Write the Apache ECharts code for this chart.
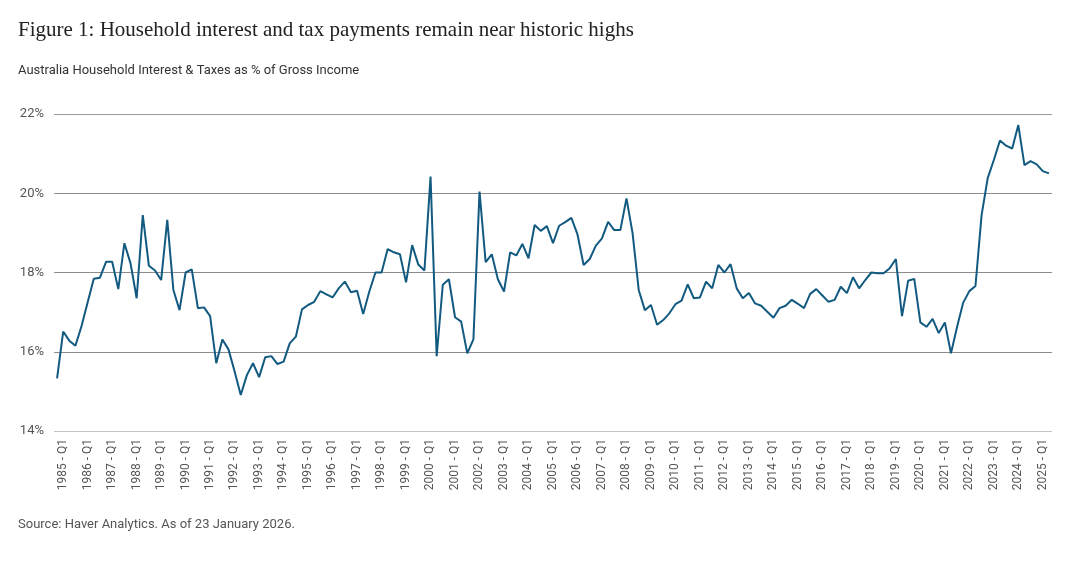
<!DOCTYPE html>
<html>
<head>
<meta charset="utf-8">
<script src="https://cdn.jsdelivr.net/npm/echarts@6/dist/echarts.min.js"></script>
<style>
  html, body {margin:0; padding:0; background:#fff;}
  #chart {width:1069px; height:564px;}
</style>
</head>
<body>
<div id="chart"></div>
<script>
// quarterly data, 1985 Q1 .. 2025 Q3
const startYear = 1985
const values = [
  15.33, 16.51, 16.28, 16.15, 16.65, 17.25, 17.84, 17.87, 18.27, 18.27,
  17.58, 18.74, 18.23, 17.35, 19.45, 18.17, 18.05, 17.81, 19.33, 17.56,
  17.05, 18.0, 18.08, 17.1, 17.12, 16.9, 15.71, 16.31, 16.06, 15.5,
  14.91, 15.41, 15.71, 15.36, 15.86, 15.89, 15.69, 15.75, 16.21, 16.38,
  17.07, 17.18, 17.26, 17.53, 17.45, 17.37, 17.6, 17.77, 17.5, 17.54,
  16.95, 17.52, 18.0, 18.0, 18.59, 18.51, 18.46, 17.75, 18.69, 18.2,
  18.05, 20.42, 15.89, 17.69, 17.83, 16.87, 16.76, 15.96, 16.31, 20.04,
  18.26, 18.46, 17.83, 17.52, 18.51, 18.43, 18.72, 18.36, 19.2, 19.05,
  19.17, 18.74, 19.18, 19.27, 19.38, 18.96, 18.19, 18.34, 18.68, 18.86,
  19.28, 19.07, 19.07, 19.87, 18.99, 17.56, 17.05, 17.18, 16.68, 16.8,
  16.97, 17.2, 17.29, 17.7, 17.35, 17.37, 17.77, 17.6, 18.19, 18.0,
  18.21, 17.6, 17.35, 17.48, 17.22, 17.16, 17.01, 16.86, 17.1, 17.16,
  17.31, 17.21, 17.1, 17.46, 17.58, 17.42, 17.26, 17.31, 17.64, 17.48,
  17.88, 17.6, 17.81, 18.0, 17.98, 17.98, 18.11, 18.34, 16.9, 17.79,
  17.84, 16.74, 16.63, 16.83, 16.47, 16.74, 15.96, 16.63, 17.24, 17.53,
  17.66, 19.45, 20.38, 20.84, 21.33, 21.2, 21.13, 21.72, 20.71, 20.81,
  20.73, 20.56, 20.5
]
const quarters = values.map((v, i) => (startYear + Math.floor(i / 4)) + ' - Q' + (i % 4 + 1))

const yTicks = [14, 16, 18, 20, 22]
const gridColors = ['#c4c4c4', '#8c8c8c', '#8c8c8c', '#8c8c8c', '#9a9a9a']

const chart = echarts.init(document.getElementById('chart'))
chart.setOption({
    animation: false,
    title: [
        {
            text: 'Figure 1: Household interest and tax payments remain near historic highs',
            left: 18, top: 20, padding: 0,
            textStyle: {fontFamily: 'Liberation Serif', fontSize: 21, fontWeight: 'normal', color: '#222'}
        },
        {
            text: 'Australia Household Interest & Taxes as % of Gross Income',
            left: 18, top: 64, padding: 0,
            textStyle: {fontFamily: 'Roboto', fontSize: 13, fontWeight: 'normal', color: '#333'}
        },
        {
            text: 'Source: Haver Analytics. As of 23 January 2026.',
            left: 18, top: 518, padding: 0,
            textStyle: {fontFamily: 'Roboto', fontSize: 13, fontWeight: 'normal', color: '#555'}
        }
    ],
    grid: {left: 54, right: 17, top: 114, bottom: 133},
    xAxis: {
        type: 'category',
        data: quarters,
        boundaryGap: true,
        axisLine: {show: false},
        axisTick: {show: false},
        axisLabel: {
            interval: 3,
            rotate: 90,
            margin: 8,
            verticalAlign: 'top',
            fontFamily: 'Roboto',
            fontSize: 12,
            color: '#555'
        }
    },
    yAxis: {
        type: 'value',
        min: yTicks[0],
        max: yTicks[yTicks.length - 1],
        interval: 2,
        axisLine: {show: false},
        axisTick: {show: false},
        axisLabel: {
            formatter: '{value}%',
            margin: 10,
            fontFamily: 'Roboto',
            fontSize: 13,
            color: '#555'
        },
        splitLine: {lineStyle: {color: gridColors, width: 1}}
    },
    series: [{
        type: 'line',
        data: values,
        symbol: 'none',
        lineStyle: {color: '#125a80', width: 2},
        itemStyle: {color: '#125a80'}
    }]
})
</script>
</body>
</html>
